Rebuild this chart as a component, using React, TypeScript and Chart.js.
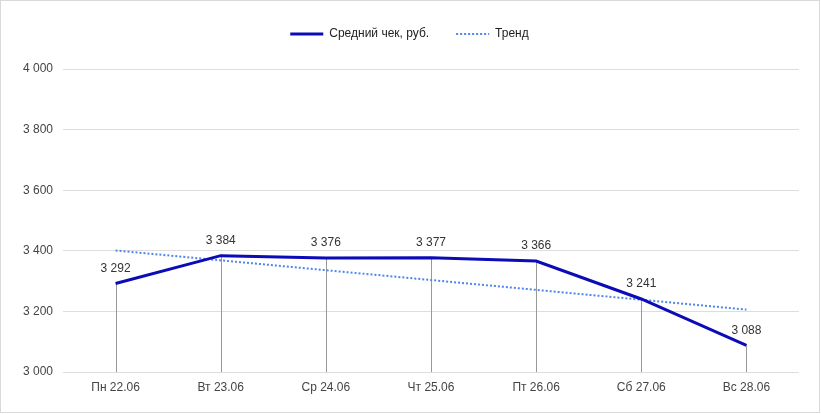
import React, { useEffect, useRef } from "react";
import { Chart, registerables } from "chart.js";

Chart.register(...registerables);

const categories = ["Пн 22.06", "Вт 23.06", "Ср 24.06", "Чт 25.06", "Пт 26.06", "Сб 27.06", "Вс 28.06"];
const avgCheck = [3292, 3384, 3376, 3377, 3366, 3241, 3088];
const trendValues = [3401, null, null, null, null, null, 3206];
const yTicks = { min: 3000, max: 4000, step: 200 };
const seriesNames = ["Средний чек, руб.", "Тренд"];

const FONT = "'Liberation Sans', Arial, sans-serif";

const fmt = (n: number) => String(Math.round(n)).replace(/\B(?=(\d{3})+(?!\d))/g, " ");

const dataLabels = {
  id: "dataLabels",
  afterDatasetsDraw(chart: any) {
    const meta = chart.getDatasetMeta(0);
    const ctx = chart.ctx;
    ctx.save();
    ctx.font = `12px ${FONT}`;
    ctx.fillStyle = "#333333";
    ctx.textAlign = "center";
    ctx.textBaseline = "middle";
    meta.data.forEach((pt: any, i: number) => {
      ctx.fillText(fmt(avgCheck[i]), pt.x, pt.y - 15);
    });
    ctx.restore();
  },
};

const dropLines = {
  id: "dropLines",
  beforeDatasetsDraw(chart: any) {
    const meta = chart.getDatasetMeta(0);
    const ctx = chart.ctx;
    const bottom = chart.chartArea.bottom;
    ctx.save();
    ctx.strokeStyle = "#999999";
    ctx.lineWidth = 1;
    meta.data.forEach((pt: any) => {
      const x = Math.round(pt.x) + 0.5;
      ctx.beginPath();
      ctx.moveTo(x, pt.y);
      ctx.lineTo(x, bottom);
      ctx.stroke();
    });
    ctx.restore();
  },
};

const legendGap = {
  id: "legendGap",
  beforeLayout(chart: any) {
    const lg = chart.legend;
    if (lg && !lg._gapPatched) {
      const f = lg.fit.bind(lg);
      lg.fit = function () {
        f();
        this.height += 19;
      };
      lg._gapPatched = true;
    }
  },
};

export default function App() {
  const ref = useRef<HTMLCanvasElement>(null);
  useEffect(() => {
    document.body.style.margin = "0";
    const chart = new Chart(ref.current!, {
      type: "line",
      data: {
        labels: categories,
        datasets: [
          {
            label: seriesNames[0],
            data: avgCheck,
            borderColor: "#0b0bb8",
            backgroundColor: "#0b0bb8",
            borderWidth: 3,
            pointRadius: 0,
            tension: 0,
          },
          {
            label: seriesNames[1],
            data: trendValues,
            borderColor: "#4f86ec",
            backgroundColor: "#4f86ec",
            borderWidth: 2,
            borderDash: [2, 2],
            pointRadius: 0,
            spanGaps: true,
            tension: 0,
          },
        ],
      },
      options: {
        animation: false,
        responsive: false,
        layout: { padding: { top: 1, right: 22, left: 20, bottom: 0 } },
        plugins: {
          tooltip: { enabled: false },
          legend: {
            position: "top",
            labels: {
              usePointStyle: true,
              pointStyle: "line",
              pointStyleWidth: 33,
              boxHeight: 12,
              padding: 27,
              color: "#222222",
              font: { family: FONT, size: 12 },
              generateLabels: (chart: any) => {
                const items = Chart.defaults.plugins.legend.labels.generateLabels(chart);
                items.forEach((it: any) => {
                  const ds = chart.data.datasets[it.datasetIndex];
                  it.lineWidth = ds.borderWidth;
                  it.strokeStyle = ds.borderColor;
                  it.lineDash = ds.borderDash || [];
                  it.pointStyle = "line";
                });
                return items;
              },
            },
          },
        },
        scales: {
          x: {
            offset: true,
            grid: { display: false, drawTicks: false },
            border: { display: false },
            ticks: { color: "#444444", font: { family: FONT, size: 12 }, padding: 8, maxRotation: 0 },
            afterFit: (s: any) => { s.height = 42; },
          },
          y: {
            min: yTicks.min,
            max: yTicks.max,
            grid: { color: "#dddddd", drawTicks: false },
            border: { display: false },
            ticks: {
              stepSize: yTicks.step,
              color: "#444444",
              font: { family: FONT, size: 12 },
              padding: 10,
              callback: (v: any) => fmt(Number(v)),
            },
            afterFit: (s: any) => { s.width = 43; },
          },
        },
      },
      plugins: [dropLines, dataLabels, legendGap],
    });
    return () => chart.destroy();
  }, []);
  return (
    <div style={{ position: "relative", width: 821, height: 414, background: "#fff" }}>
      <canvas ref={ref} width={821} height={414} style={{ position: "absolute", left: 0, top: 0 }} />
      <div
        style={{
          position: "absolute",
          left: 0,
          top: 0,
          width: 820,
          height: 413,
          border: "1px solid #d9d9d9",
          boxSizing: "border-box",
          pointerEvents: "none",
        }}
      />
    </div>
  );
}
